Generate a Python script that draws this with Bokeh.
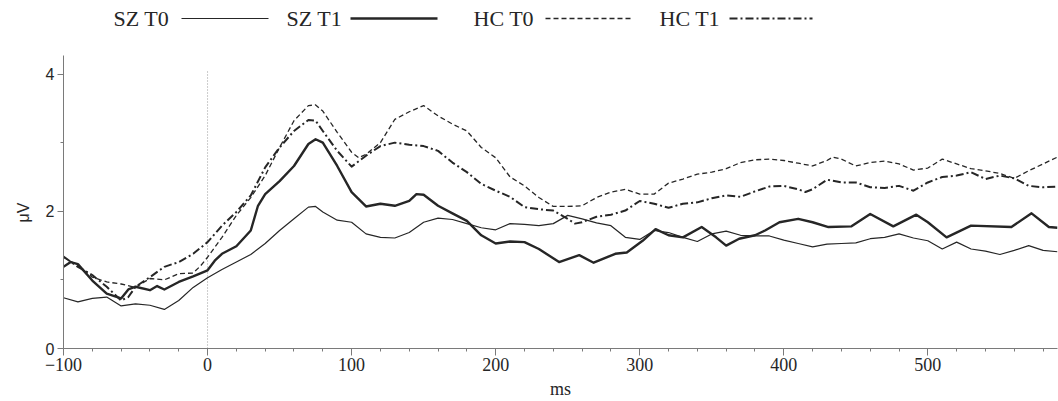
from bokeh.plotting import figure
from bokeh.models import Range1d, FixedTicker, Title
from bokeh.core.properties import value
from bokeh.embed import file_html
from bokeh.resources import INLINE

# ---------------- data ----------------
sz_t0_ms = [-100, -90, -80, -70, -60, -50, -40, -30, -20, -10, 0, 10, 20, 30, 40, 50, 60, 70, 75, 80, 90,
            100, 110, 120, 130, 140, 150, 160, 170, 180, 190, 200, 210, 220, 230, 240, 250, 260, 270,
            280, 290, 300, 310, 320, 330, 340, 350, 360, 370, 380, 390, 400, 410, 420, 430, 440, 450,
            460, 470, 480, 490, 500, 510, 520, 530, 540, 550, 560, 570, 580, 590]
sz_t0_uv = [0.74, 0.68, 0.73, 0.75, 0.62, 0.65, 0.63, 0.57, 0.70, 0.89, 1.03, 1.15, 1.26, 1.37, 1.53, 1.72,
            1.89, 2.06, 2.07, 1.99, 1.87, 1.84, 1.67, 1.62, 1.61, 1.69, 1.84, 1.90, 1.88, 1.82, 1.76, 1.73,
            1.82, 1.81, 1.79, 1.82, 1.94, 1.89, 1.83, 1.79, 1.62, 1.59, 1.72, 1.69, 1.62, 1.56, 1.67, 1.71,
            1.65, 1.64, 1.64, 1.58, 1.53, 1.48, 1.52, 1.53, 1.54, 1.60, 1.62, 1.67, 1.61, 1.57, 1.45, 1.55,
            1.45, 1.42, 1.37, 1.43, 1.50, 1.43, 1.41]

sz_t1_ms = [-100, -95, -90, -80, -70, -60, -55, -50, -40, -35, -30, -20, -10, 0, 5, 10, 20, 30, 35, 40, 50,
            60, 70, 75, 80, 90, 100, 110, 120, 130, 140, 145, 150, 160, 170, 180, 190, 200, 210, 220, 230,
            244, 258, 268, 283, 291, 302, 311, 320, 330, 343, 353, 360, 369, 380, 387, 397, 410, 420, 431,
            447, 460, 476, 492, 500, 513, 530, 558, 572, 584, 590]
sz_t1_uv = [1.19, 1.26, 1.23, 0.99, 0.80, 0.73, 0.86, 0.90, 0.85, 0.91, 0.86, 0.97, 1.05, 1.14, 1.28, 1.38,
            1.49, 1.72, 2.08, 2.25, 2.44, 2.66, 2.98, 3.05, 3.00, 2.66, 2.28, 2.07, 2.11, 2.08, 2.15, 2.25,
            2.24, 2.08, 1.97, 1.86, 1.65, 1.53, 1.56, 1.55, 1.45, 1.26, 1.36, 1.25, 1.38, 1.40, 1.57, 1.74,
            1.65, 1.62, 1.77, 1.62, 1.50, 1.60, 1.65, 1.72, 1.84, 1.89, 1.84, 1.77, 1.78, 1.96, 1.78, 1.95,
            1.84, 1.62, 1.79, 1.77, 1.97, 1.77, 1.76]

hc_t0_ms = [-100, -90, -80, -70, -60, -50, -40, -30, -20, -10, -5, 0, 10, 20, 30, 40, 50, 60, 70, 75, 80,
            90, 100, 105, 110, 120, 130, 140, 150, 160, 170, 180, 190, 200, 210, 220, 230, 240, 250, 260,
            270, 280, 290, 300, 310, 320, 330, 340, 350, 360, 370, 380, 390, 400, 410, 420, 430, 434, 440,
            450, 460, 470, 480, 490, 500, 510, 520, 530, 540, 550, 560, 570, 580, 590]
hc_t0_uv = [1.33, 1.21, 1.04, 0.97, 0.94, 0.89, 1.02, 1.00, 1.09, 1.10, 1.20, 1.33, 1.62, 1.94, 2.20, 2.52,
            2.93, 3.32, 3.54, 3.55, 3.46, 3.15, 2.86, 2.78, 2.83, 3.00, 3.34, 3.45, 3.54, 3.39, 3.27, 3.17,
            2.93, 2.78, 2.50, 2.37, 2.20, 2.07, 2.07, 2.08, 2.20, 2.28, 2.32, 2.25, 2.25, 2.41, 2.47, 2.54,
            2.57, 2.62, 2.71, 2.75, 2.76, 2.74, 2.70, 2.66, 2.74, 2.79, 2.76, 2.66, 2.71, 2.73, 2.69, 2.60,
            2.63, 2.76, 2.69, 2.62, 2.59, 2.55, 2.48, 2.59, 2.69, 2.79]

hc_t1_ms = [-100, -90, -80, -70, -60, -55, -50, -40, -30, -20, -10, 0, 10, 20, 30, 40, 50, 60, 70, 75, 80,
            90, 100, 110, 120, 130, 140, 150, 160, 170, 180, 190, 200, 210, 220, 230, 240, 250, 255, 260,
            270, 280, 290, 300, 310, 320, 330, 340, 350, 360, 370, 380, 390, 400, 410, 415, 420, 430, 440,
            450, 460, 470, 480, 490, 500, 510, 520, 530, 540, 550, 560, 570, 580, 590]
hc_t1_uv = [1.34, 1.19, 1.07, 0.90, 0.70, 0.75, 0.90, 1.04, 1.19, 1.26, 1.38, 1.55, 1.79, 1.99, 2.23, 2.64,
            2.93, 3.17, 3.33, 3.32, 3.17, 2.88, 2.65, 2.81, 2.95, 3.00, 2.97, 2.95, 2.88, 2.71, 2.57, 2.40,
            2.30, 2.21, 2.06, 2.03, 2.01, 1.89, 1.82, 1.84, 1.92, 1.95, 2.01, 2.15, 2.11, 2.05, 2.11, 2.13,
            2.19, 2.23, 2.21, 2.29, 2.36, 2.37, 2.32, 2.28, 2.32, 2.46, 2.42, 2.42, 2.35, 2.34, 2.37, 2.30,
            2.42, 2.50, 2.52, 2.57, 2.47, 2.52, 2.48, 2.37, 2.35, 2.36]

series_names = ["SZ T0", "SZ T1", "HC T0", "HC T1"]
x_ticks = [-100, 0, 100, 200, 300, 400, 500]
x_tick_labels = {-100: "\u2212100"}
y_ticks = [0, 2, 4]
y_axis_top = 4.27
onset_top = 4.05
x_label = "ms"
y_label = "\u03bcV"

# ---------------- layout ----------------
X0, X1 = -100, 590
W, H = 1058, 401
BL, BR, BT, BB = 63, 1, 0, 53
FRAME_W = W - BL - BR
FRAME_B = H - BB                 # frame bottom (canvas px)
PX_MS = FRAME_W / (X1 - X0)
PX_UV = (FRAME_B - 55) / y_axis_top   # axis line reaches up to y = 55 px
Y_TOP = FRAME_B / PX_UV          # frame extends to canvas top (room for legend)


def dx(px):  # canvas pixel -> data x
    return X0 + (px - BL) / PX_MS


def dy(py):  # canvas pixel -> data y
    return (FRAME_B - py) / PX_UV


INK = "#262626"
AXIS = "#7a7a7a"
SERIF = "Liberation Serif"
SANS = "Liberation Sans"

p = figure(width=W, height=H, output_backend="svg", toolbar_location=None,
           x_range=Range1d(X0, X1), y_range=Range1d(0, Y_TOP),
           min_border_left=BL, min_border_right=BR, min_border_top=BT, min_border_bottom=BB)
p.outline_line_color = None
p.grid.visible = False
p.background_fill_color = "white"
p.border_fill_color = "white"

styles = [
    dict(line_width=1.2, line_dash="solid"),
    dict(line_width=2.4, line_dash="solid"),
    dict(line_width=1.3, line_dash="5 3"),
    dict(line_width=2.0, line_dash="8 3 2 3"),
]
data = [(sz_t0_ms, sz_t0_uv), (sz_t1_ms, sz_t1_uv), (hc_t0_ms, hc_t0_uv), (hc_t1_ms, hc_t1_uv)]

# dotted stimulus-onset line
p.segment(x0=[0], y0=[0], x1=[0], y1=[onset_top], line_color="#999999", line_width=1, line_dash="1 2")

for (xs, ys), st in zip(data, styles):
    p.line(xs, ys, line_color=INK, line_join="round", **st)

# legend (text followed by line sample), placed above the axes
leg_text_x = [113, 286, 473, 659]
leg_line_x = [(181, 268), (350, 437), (545, 632), (729, 812)]
leg_y = dy(18)
p.text(x=[dx(t) for t in leg_text_x], y=[leg_y] * 4, text=series_names,
       text_align="left", text_baseline="middle", text_font=value(SERIF),
       text_font_size="22px", text_color=INK)
for (l0, l1), st in zip(leg_line_x, styles):
    p.line([dx(l0), dx(l1)], [leg_y, leg_y], line_color=INK, **st)

# axes
xa = p.xaxis[0]
xa.ticker = FixedTicker(ticks=x_ticks, minor_ticks=list(range(-100, 591, 20)))
xa.major_label_overrides = x_tick_labels
xa.axis_line_color = AXIS
xa.major_tick_line_color = AXIS
xa.minor_tick_line_color = AXIS
xa.major_tick_out = 7
xa.major_tick_in = 0
xa.minor_tick_out = 3
xa.minor_tick_in = 0
xa.major_label_standoff = 2
xa.major_label_text_font = SERIF
xa.major_label_text_font_size = "18px"
xa.major_label_text_color = INK
xa.axis_label = x_label
xa.axis_label_text_font = SERIF
xa.axis_label_text_font_size = "18px"
xa.axis_label_text_font_style = "normal"
xa.axis_label_text_color = INK
xa.axis_label_standoff = 5

ya = p.yaxis[0]
ya.ticker = FixedTicker(ticks=y_ticks, minor_ticks=[1, 3])
ya.bounds = (0, y_axis_top)
ya.axis_line_color = AXIS
ya.major_tick_line_color = AXIS
ya.minor_tick_line_color = AXIS
ya.major_tick_out = 6
ya.major_tick_in = 0
ya.minor_tick_out = 3
ya.minor_tick_in = 0
ya.major_label_standoff = 3
ya.major_label_text_font = SANS
ya.major_label_text_font_size = "16px"
ya.major_label_text_color = INK

# y-axis title, placed beside the value 2 like the reference
p.add_layout(Title(text=y_label, align="left", offset=126, standoff=22,
                   text_font=SANS, text_font_size="16px", text_font_style="normal",
                   text_color=INK), "left")

open("out.html", "w").write(file_html(p, INLINE))
